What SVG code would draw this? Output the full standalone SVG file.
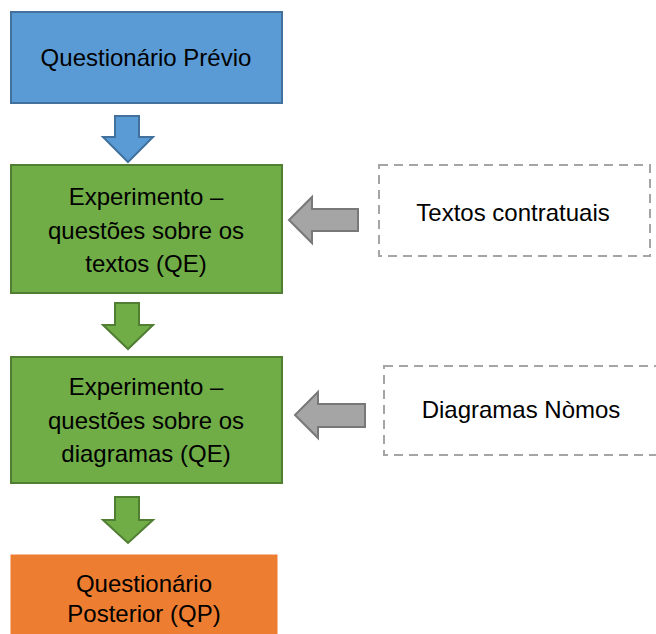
<svg xmlns="http://www.w3.org/2000/svg" width="656" height="634" viewBox="0 0 656 634">
<style>
.t{font-family:"Liberation Sans",Arial,sans-serif;font-size:24px;fill:#000;text-anchor:middle}
.blue{fill:#5B9BD5;stroke:#41719C;stroke-width:2}
.green{fill:#70AD47;stroke:#507E32;stroke-width:2}
.orange{fill:#ED7D31;stroke:#ED7D31;stroke-width:1}
.gray{fill:#A5A5A5;stroke:#787878;stroke-width:2;stroke-linejoin:miter}
.dash{fill:#fff;stroke:#A5A5A5;stroke-width:2;stroke-dasharray:9,6}
</style>
<rect width="656" height="634" fill="#fff"/>
<g id="n1"><rect class="blue" x="11" y="12" width="271" height="91"/><text class="t" x="146" y="66">Questionário Prévio</text></g>
<g id="n2"><rect class="green" x="11" y="165" width="271" height="128"/><text class="t" x="146" y="205">Experimento –</text><text class="t" x="146" y="238.5">questões sobre os</text><text class="t" x="146" y="272">textos (QE)</text></g>
<g id="n3"><rect class="green" x="11" y="357" width="271" height="126"/><text class="t" x="146" y="395">Experimento –</text><text class="t" x="146" y="428.5">questões sobre os</text><text class="t" x="146" y="462">diagramas (QE)</text></g>
<g id="n4"><rect class="orange" x="11" y="555" width="266" height="85"/><text class="t" x="144" y="592">Questionário</text><text class="t" x="144" y="622">Posterior (QP)</text></g>
<g id="n5"><rect class="dash" x="379" y="165" width="271" height="91"/><text class="t" x="513" y="221">Textos contratuais</text></g>
<g id="n6"><rect class="dash" x="384" y="366" width="280" height="89"/><text class="t" x="521" y="418">Diagramas Nòmos</text></g>
<g id="connectors">
<path class="blue" d="M115,116 H139 V137 H153 L128,162 L103,137 H115 Z"/>
<path class="green" d="M115,303 H139 V325 H153 L128,349 L103,325 H115 Z"/>
<path class="green" d="M115,497 H139 V520 H153 L128,543 L103,520 H115 Z"/>
<path class="gray" d="M358,209 V231 H312 V243 L289,220 L312,197 V209 Z"/>
<path class="gray" d="M365,404 V427 H318 V438 L295,415 L318,392 V404 Z"/>
</g>
</svg>
